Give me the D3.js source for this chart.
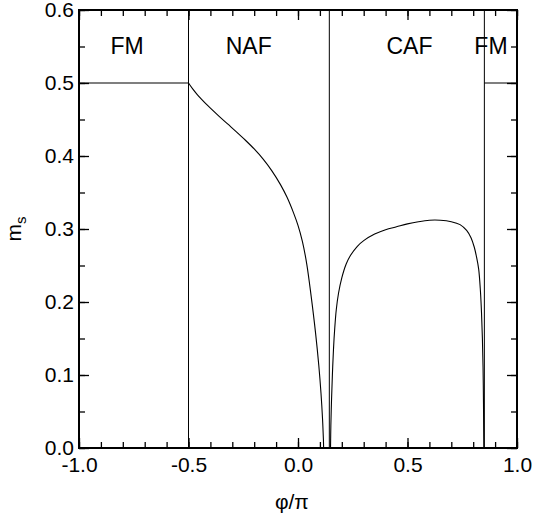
<!DOCTYPE html>
<html>
<head>
<meta charset="utf-8">
<script src="https://cdn.jsdelivr.net/npm/d3@7"></script>
<style>
  html, body { margin: 0; padding: 0; background: #fff; }
  svg { display: block; }
  text { font-family: "Liberation Sans", Arial, Helvetica, sans-serif; fill: #000; }
</style>
</head>
<body>
<svg id="chart" width="533" height="520"></svg>
<script>
// ---- data ----
const xMajorTicks = [-1.0, -0.5, 0.0, 0.5, 1.0];
const yMajorTicks = [0.0, 0.1, 0.2, 0.3, 0.4, 0.5, 0.6];
const xMinorTicks = d3.range(-10, 11).map(i => i / 10);
const yMinorTicks = d3.range(0, 13).map(i => i / 20);

const phaseBoundaries = [-0.5, 0.143, 0.851];

const fmLeftX = [-1.0, -0.5];
const fmLeftY = [0.5, 0.5];
const fmRightX = [0.851, 1.0];
const fmRightY = [0.5, 0.5];

const nafX = [-0.5, -0.48, -0.46, -0.44, -0.42, -0.40, -0.36, -0.32, -0.28, -0.24, -0.20, -0.16, -0.12, -0.08, -0.05, -0.02, 0.0, 0.02, 0.04, 0.06, 0.08, 0.095, 0.105, 0.112, 0.116, 0.117];
const nafY = [0.5, 0.4916, 0.4842, 0.4776, 0.4714, 0.4656, 0.4544, 0.4436, 0.4328, 0.4216, 0.4096, 0.396, 0.380, 0.3608, 0.3434, 0.3218, 0.305, 0.283, 0.252, 0.208, 0.158, 0.113, 0.075, 0.040, 0.012, 0.0];

const cafX = [0.1485, 0.150, 0.153, 0.157, 0.162, 0.168, 0.175, 0.185, 0.2, 0.22, 0.24, 0.27, 0.3, 0.35, 0.4, 0.45, 0.5, 0.55, 0.6, 0.65, 0.7, 0.74, 0.77, 0.79, 0.805, 0.815, 0.825, 0.833, 0.838, 0.842, 0.845, 0.847, 0.848, 0.8485];
const cafY = [0.0, 0.03, 0.065, 0.10, 0.135, 0.165, 0.19, 0.212, 0.233, 0.252, 0.264, 0.276, 0.284, 0.293, 0.299, 0.303, 0.307, 0.310, 0.312, 0.312, 0.310, 0.306, 0.298, 0.288, 0.275, 0.262, 0.245, 0.215, 0.185, 0.15, 0.11, 0.06, 0.02, 0.0];

const regionLabels = ["FM", "NAF", "CAF", "FM"];
const regionLabelX = [-0.78, -0.225, 0.509, 0.881];
const regionLabelY = 0.54;

const xTitle = "φ/π";
const yTitleMain = "m";
const yTitleSub = "s";

// ---- layout ----
const W = 533, H = 520;
const margin = { left: 79, right: 16, top: 10, bottom: 72 };
const x = d3.scaleLinear().domain([-1, 1]).range([margin.left, W - margin.right]);
const y = d3.scaleLinear().domain([0, 0.6]).range([H - margin.bottom, margin.top]);

const svg = d3.select("#chart");
const fmt = d => d.toFixed(1);
const tickFont = "21px";

function styleAxis(g) {
  g.select(".domain").remove();
  g.selectAll("line").attr("stroke", "#000").attr("stroke-width", 1.3);
}
// minor ticks
svg.append("g").attr("transform", `translate(0,${y(0)})`)
  .call(d3.axisBottom(x).tickValues(xMinorTicks).tickSize(-6).tickFormat(""))
  .call(styleAxis);
svg.append("g").attr("transform", `translate(0,${y(0.6)})`)
  .call(d3.axisTop(x).tickValues(xMinorTicks).tickSize(-6).tickFormat(""))
  .call(styleAxis);
svg.append("g").attr("transform", `translate(${x(-1)},0)`)
  .call(d3.axisLeft(y).tickValues(yMinorTicks).tickSize(-6).tickFormat(""))
  .call(styleAxis);
svg.append("g").attr("transform", `translate(${x(1)},0)`)
  .call(d3.axisRight(y).tickValues(yMinorTicks).tickSize(-6).tickFormat(""))
  .call(styleAxis);

// major ticks with labels
const gxb = svg.append("g").attr("transform", `translate(0,${y(0)})`)
  .call(d3.axisBottom(x).tickValues(xMajorTicks).tickSize(-10).tickPadding(9).tickFormat(fmt))
  .call(styleAxis);
gxb.selectAll("text").style("font-size", tickFont).attr("fill", "#000");
svg.append("g").attr("transform", `translate(0,${y(0.6)})`)
  .call(d3.axisTop(x).tickValues(xMajorTicks).tickSize(-10).tickFormat(""))
  .call(styleAxis);
const gyl = svg.append("g").attr("transform", `translate(${x(-1)},0)`)
  .call(d3.axisLeft(y).tickValues(yMajorTicks).tickSize(-10).tickPadding(5).tickFormat(fmt))
  .call(styleAxis);
gyl.selectAll("text").style("font-size", tickFont).attr("fill", "#000");
svg.append("g").attr("transform", `translate(${x(1)},0)`)
  .call(d3.axisRight(y).tickValues(yMajorTicks).tickSize(-10).tickFormat(""))
  .call(styleAxis);

// phase boundary lines
svg.append("g").selectAll("line").data(phaseBoundaries).join("line")
  .attr("x1", d => x(d)).attr("x2", d => x(d))
  .attr("y1", y(0)).attr("y2", y(0.6))
  .attr("stroke", "#000").attr("stroke-width", 1);

// curves
const straight = d3.line().x(d => x(d[0])).y(d => y(d[1]));
const smooth = d3.line().x(d => x(d[0])).y(d => y(d[1])).curve(d3.curveCatmullRom.alpha(0.5));
const zip = (a, b) => a.map((v, i) => [v, b[i]]);

svg.append("path").datum(zip(fmLeftX, fmLeftY)).attr("d", straight)
  .attr("fill", "none").attr("stroke", "#000").attr("stroke-width", 1.1);
svg.append("path").datum(zip(fmRightX, fmRightY)).attr("d", straight)
  .attr("fill", "none").attr("stroke", "#000").attr("stroke-width", 1.1);
svg.append("path").datum(zip(nafX, nafY)).attr("d", smooth)
  .attr("fill", "none").attr("stroke", "#000").attr("stroke-width", 1.1);
svg.append("path").datum(zip(cafX, cafY)).attr("d", smooth)
  .attr("fill", "none").attr("stroke", "#000").attr("stroke-width", 1.1);

// frame
svg.append("rect")
  .attr("x", x(-1)).attr("y", y(0.6))
  .attr("width", x(1) - x(-1)).attr("height", y(0) - y(0.6))
  .attr("fill", "none").attr("stroke", "#000").attr("stroke-width", 2);

// region labels
svg.append("g").selectAll("text").data(regionLabels).join("text")
  .attr("x", (d, i) => x(regionLabelX[i]))
  .attr("y", y(regionLabelY))
  .attr("text-anchor", "middle")
  .style("font-size", "23px")
  .text(d => d);

// axis titles
svg.append("text")
  .attr("x", x(-0.028)).attr("y", 509)
  .attr("text-anchor", "middle")
  .style("font-size", "21px")
  .text(xTitle);

const yt = svg.append("text")
  .attr("transform", `translate(21,${y(0.3)}) rotate(-90)`)
  .attr("text-anchor", "middle")
  .style("font-size", "21px");
yt.append("tspan").text(yTitleMain);
yt.append("tspan").attr("dy", 5).style("font-size", "15px").text(yTitleSub);
</script>
</body>
</html>
